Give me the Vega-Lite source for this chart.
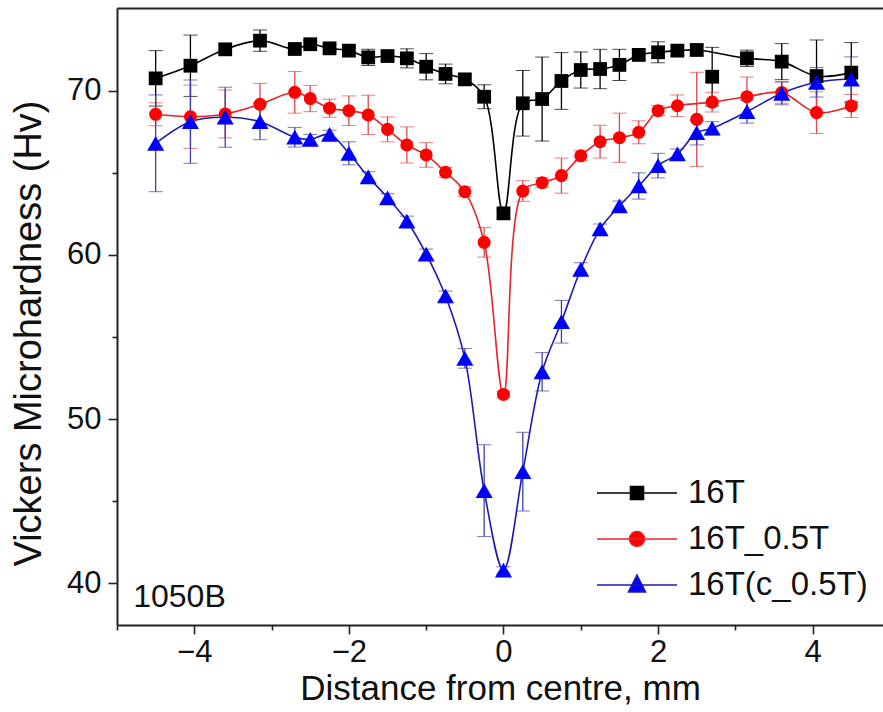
{
  "$schema": "https://vega.github.io/schema/vega-lite/v6.json",
  "width": 766,
  "height": 617,
  "autosize": {"type": "none"},
  "padding": {"left": 117, "top": 8, "right": 0, "bottom": 87},
  "background": "white",
  "config": {
    "view": {"stroke": null},
    "font": "Liberation Sans",
    "axis": {
      "grid": false,
      "domainColor": "#222222",
      "domainWidth": 2,
      "tickColor": "#222222",
      "tickWidth": 1.6,
      "labelColor": "#111111",
      "titleColor": "#111111",
      "labelFont": "Liberation Sans",
      "titleFont": "Liberation Sans",
      "titleFontWeight": "normal",
      "labelFontSize": 31,
      "labelFlush": false,
      "labelOverlap": false
    }
  },
  "data": {
    "values": [
      {"s": "16T", "x": -4.5, "y": 70.77, "e": 1.69},
      {"s": "16T", "x": -4.05, "y": 71.54, "e": 1.87},
      {"s": "16T", "x": -3.6, "y": 72.54, "e": 0.3},
      {"s": "16T", "x": -3.15, "y": 73.07, "e": 0.65},
      {"s": "16T", "x": -2.7, "y": 72.56, "e": 0.25},
      {"s": "16T", "x": -2.5, "y": 72.85, "e": 0.2},
      {"s": "16T", "x": -2.25, "y": 72.6, "e": 0.2},
      {"s": "16T", "x": -2.0, "y": 72.46, "e": 0.2},
      {"s": "16T", "x": -1.75, "y": 72.05, "e": 0.5},
      {"s": "16T", "x": -1.5, "y": 72.13, "e": 0.25},
      {"s": "16T", "x": -1.25, "y": 71.99, "e": 0.58},
      {"s": "16T", "x": -1.0, "y": 71.48, "e": 0.8},
      {"s": "16T", "x": -0.75, "y": 71.04, "e": 0.6},
      {"s": "16T", "x": -0.5, "y": 70.71, "e": 0.3},
      {"s": "16T", "x": -0.25, "y": 69.65, "e": 0.73},
      {"s": "16T", "x": 0.0, "y": 62.54, "e": 0.3},
      {"s": "16T", "x": 0.25, "y": 69.25, "e": 2.0},
      {"s": "16T", "x": 0.5, "y": 69.51, "e": 2.56},
      {"s": "16T", "x": 0.75, "y": 70.61, "e": 1.73},
      {"s": "16T", "x": 1.0, "y": 71.28, "e": 1.1},
      {"s": "16T", "x": 1.25, "y": 71.34, "e": 1.2},
      {"s": "16T", "x": 1.5, "y": 71.59, "e": 0.95},
      {"s": "16T", "x": 1.75, "y": 72.2, "e": 0.3},
      {"s": "16T", "x": 2.0, "y": 72.36, "e": 0.64},
      {"s": "16T", "x": 2.25, "y": 72.46, "e": 0.3},
      {"s": "16T", "x": 2.5, "y": 72.5, "e": 0.3},
      {"s": "16T", "x": 2.7, "y": 70.87, "e": 1.79},
      {"s": "16T", "x": 3.15, "y": 71.99, "e": 0.5},
      {"s": "16T", "x": 3.6, "y": 71.79, "e": 1.1},
      {"s": "16T", "x": 4.05, "y": 70.91, "e": 2.2},
      {"s": "16T", "x": 4.5, "y": 71.12, "e": 1.83},

      {"s": "16T_0.5T", "x": -4.5, "y": 68.58, "e": 0.7},
      {"s": "16T_0.5T", "x": -4.05, "y": 68.43, "e": 1.93},
      {"s": "16T_0.5T", "x": -3.6, "y": 68.6, "e": 1.46},
      {"s": "16T_0.5T", "x": -3.15, "y": 69.19, "e": 1.27},
      {"s": "16T_0.5T", "x": -2.7, "y": 69.92, "e": 1.27},
      {"s": "16T_0.5T", "x": -2.5, "y": 69.54, "e": 0.8},
      {"s": "16T_0.5T", "x": -2.25, "y": 68.95, "e": 0.55},
      {"s": "16T_0.5T", "x": -2.0, "y": 68.8, "e": 0.9},
      {"s": "16T_0.5T", "x": -1.75, "y": 68.54, "e": 1.2},
      {"s": "16T_0.5T", "x": -1.5, "y": 67.66, "e": 0.76},
      {"s": "16T_0.5T", "x": -1.25, "y": 66.71, "e": 1.1},
      {"s": "16T_0.5T", "x": -1.0, "y": 66.1, "e": 0.75},
      {"s": "16T_0.5T", "x": -0.75, "y": 65.04, "e": 0.3},
      {"s": "16T_0.5T", "x": -0.5, "y": 63.86, "e": 0.3},
      {"s": "16T_0.5T", "x": -0.25, "y": 60.77, "e": 0.9},
      {"s": "16T_0.5T", "x": 0.0, "y": 51.5, "e": 0.2},
      {"s": "16T_0.5T", "x": 0.25, "y": 63.9, "e": 0.63},
      {"s": "16T_0.5T", "x": 0.5, "y": 64.41, "e": 0.3},
      {"s": "16T_0.5T", "x": 0.75, "y": 64.84, "e": 1.07},
      {"s": "16T_0.5T", "x": 1.0, "y": 66.05, "e": 0.3},
      {"s": "16T_0.5T", "x": 1.25, "y": 66.91, "e": 1.0},
      {"s": "16T_0.5T", "x": 1.5, "y": 67.15, "e": 1.5},
      {"s": "16T_0.5T", "x": 1.75, "y": 67.48, "e": 0.7},
      {"s": "16T_0.5T", "x": 2.0, "y": 68.8, "e": 0.3},
      {"s": "16T_0.5T", "x": 2.25, "y": 69.1, "e": 0.66},
      {"s": "16T_0.5T", "x": 2.5, "y": 68.27, "e": 2.87},
      {"s": "16T_0.5T", "x": 2.7, "y": 69.32, "e": 0.6},
      {"s": "16T_0.5T", "x": 3.15, "y": 69.65, "e": 1.2},
      {"s": "16T_0.5T", "x": 3.6, "y": 69.9, "e": 0.65},
      {"s": "16T_0.5T", "x": 4.05, "y": 68.68, "e": 1.27},
      {"s": "16T_0.5T", "x": 4.5, "y": 69.09, "e": 0.7},

      {"s": "16T(c_0.5T)", "x": -4.5, "y": 66.81, "e": 2.95},
      {"s": "16T(c_0.5T)", "x": -4.05, "y": 68.13, "e": 2.54},
      {"s": "16T(c_0.5T)", "x": -3.6, "y": 68.4, "e": 1.83},
      {"s": "16T(c_0.5T)", "x": -3.15, "y": 68.13, "e": 1.1},
      {"s": "16T(c_0.5T)", "x": -2.7, "y": 67.18, "e": 0.6},
      {"s": "16T(c_0.5T)", "x": -2.5, "y": 67.05, "e": 0.3},
      {"s": "16T(c_0.5T)", "x": -2.25, "y": 67.36, "e": 0.25},
      {"s": "16T(c_0.5T)", "x": -2.0, "y": 66.2, "e": 0.7},
      {"s": "16T(c_0.5T)", "x": -1.75, "y": 64.77, "e": 0.3},
      {"s": "16T(c_0.5T)", "x": -1.5, "y": 63.49, "e": 0.25},
      {"s": "16T(c_0.5T)", "x": -1.25, "y": 62.07, "e": 0.3},
      {"s": "16T(c_0.5T)", "x": -1.0, "y": 60.06, "e": 0.3},
      {"s": "16T(c_0.5T)", "x": -0.75, "y": 57.5, "e": 0.3},
      {"s": "16T(c_0.5T)", "x": -0.5, "y": 53.7, "e": 0.6},
      {"s": "16T(c_0.5T)", "x": -0.25, "y": 45.63, "e": 2.8},
      {"s": "16T(c_0.5T)", "x": 0.0, "y": 40.79, "e": 0.2},
      {"s": "16T(c_0.5T)", "x": 0.25, "y": 46.79, "e": 2.4},
      {"s": "16T(c_0.5T)", "x": 0.5, "y": 52.88, "e": 1.17},
      {"s": "16T(c_0.5T)", "x": 0.75, "y": 55.93, "e": 1.3},
      {"s": "16T(c_0.5T)", "x": 1.0, "y": 59.13, "e": 0.4},
      {"s": "16T(c_0.5T)", "x": 1.25, "y": 61.59, "e": 0.3},
      {"s": "16T(c_0.5T)", "x": 1.5, "y": 62.99, "e": 0.3},
      {"s": "16T(c_0.5T)", "x": 1.75, "y": 64.21, "e": 0.8},
      {"s": "16T(c_0.5T)", "x": 2.0, "y": 65.45, "e": 0.75},
      {"s": "16T(c_0.5T)", "x": 2.25, "y": 66.16, "e": 0.3},
      {"s": "16T(c_0.5T)", "x": 2.5, "y": 67.46, "e": 0.75},
      {"s": "16T(c_0.5T)", "x": 2.7, "y": 67.73, "e": 0.4},
      {"s": "16T(c_0.5T)", "x": 3.15, "y": 68.74, "e": 0.7},
      {"s": "16T(c_0.5T)", "x": 3.6, "y": 69.86, "e": 0.7},
      {"s": "16T(c_0.5T)", "x": 4.05, "y": 70.53, "e": 0.9},
      {"s": "16T(c_0.5T)", "x": 4.5, "y": 70.73, "e": 1.35}
    ]
  },
  "layer": [
    {
      "mark": {"type": "errorbar", "ticks": {"size": 14, "strokeWidth": 1.3}, "rule": {"strokeWidth": 1.3}},
      "encoding": {
        "x": {"field": "x", "type": "quantitative", "scale": {"domain": [-5, 4.91], "nice": false, "zero": false},
              "axis": {"values": [-5, -3, -1, 1, 3], "tickSize": 5, "labels": false, "domain": false, "title": null, "orient": "bottom"}},
        "y": {"field": "y", "type": "quantitative", "scale": {"domain": [37.44, 75.06], "nice": false, "zero": false},
              "axis": {"values": [45, 55, 65], "tickSize": 5, "labels": false, "domain": false, "title": null, "orient": "left"}},
        "yError": {"field": "e"},
        "color": {"field": "s", "type": "nominal", "legend": null,
                  "scale": {"domain": ["16T", "16T_0.5T", "16T(c_0.5T)"], "range": ["#000000", "#e04848", "#4040a8"]}}
      }
    },
    {
      "transform": [{"filter": "!((datum.s === '16T' && datum.x === 2.7) || (datum.s === '16T_0.5T' && datum.x === 2.5))"}],
      "mark": {"type": "line", "interpolate": "catmull-rom", "strokeWidth": 1.6},
      "encoding": {
        "x": {"field": "x", "type": "quantitative", "scale": {"domain": [-5, 4.91], "nice": false, "zero": false},
              "axis": {"values": [-4, -2, 0, 2, 4], "tickSize": 9, "labelPadding": 3, "title": "Distance from centre, mm", "titleFontSize": 35, "titlePadding": 4, "orient": "bottom"}},
        "y": {"field": "y", "type": "quantitative", "scale": {"domain": [37.44, 75.06], "nice": false, "zero": false},
              "axis": {"values": [40, 50, 60, 70], "tickSize": 9, "labelPadding": 7, "title": "Vickers Microhardness (Hv)", "titleFontSize": 38, "titlePadding": 18, "titleY": 325, "orient": "left"}},
        "color": {"field": "s", "type": "nominal", "legend": null,
                  "scale": {"domain": ["16T", "16T_0.5T", "16T(c_0.5T)"], "range": ["#000000", "#e8232a", "#1a1ab8"]}},
        "detail": {"field": "s"}
      }
    },
    {
      "transform": [{"filter": "datum.s === '16T'"}],
      "mark": {"type": "point", "filled": true, "opacity": 1, "shape": "square", "size": 190, "color": "#000000"},
      "encoding": {
        "x": {"field": "x", "type": "quantitative", "scale": {"domain": [-5, 4.91], "nice": false, "zero": false},
              "axis": {"orient": "top", "ticks": false, "labels": false, "title": null, "domain": true}},
        "y": {"field": "y", "type": "quantitative", "scale": {"domain": [37.44, 75.06], "nice": false, "zero": false}, "axis": null}
      }
    },
    {
      "transform": [{"filter": "datum.s === '16T_0.5T'"}],
      "mark": {"type": "point", "filled": true, "opacity": 1, "shape": "circle", "size": 170, "color": "#ff0000"},
      "encoding": {
        "x": {"field": "x", "type": "quantitative", "scale": {"domain": [-5, 4.91], "nice": false, "zero": false}, "axis": null},
        "y": {"field": "y", "type": "quantitative", "scale": {"domain": [37.44, 75.06], "nice": false, "zero": false}, "axis": null}
      }
    },
    {
      "transform": [{"filter": "datum.s === '16T(c_0.5T)'"}],
      "mark": {"type": "point", "filled": true, "opacity": 1, "shape": "triangle-up", "size": 290, "color": "#0000ff"},
      "encoding": {
        "x": {"field": "x", "type": "quantitative", "scale": {"domain": [-5, 4.91], "nice": false, "zero": false}, "axis": null},
        "y": {"field": "y", "type": "quantitative", "scale": {"domain": [37.44, 75.06], "nice": false, "zero": false}, "axis": null}
      }
    },
    {
      "transform": [{"filter": "false"}],
      "mark": {"type": "point", "filled": true, "opacity": 1, "strokeWidth": 1.6},
      "encoding": {
        "x": {"field": "x", "type": "quantitative", "scale": {"domain": [-5, 4.91], "nice": false, "zero": false}, "axis": null},
        "y": {"field": "y", "type": "quantitative", "scale": {"domain": [37.44, 75.06], "nice": false, "zero": false}, "axis": null},
        "fill": {"field": "s", "type": "nominal",
                 "scale": {"domain": ["16T", "16T_0.5T", "16T(c_0.5T)"], "range": ["#000000", "#ff0000", "#0000ff"]},
                 "legend": {"title": null, "orient": "none", "legendX": 519, "legendY": 464,
                            "labelFontSize": 33, "labelFont": "Liberation Sans", "labelColor": "#111111", "labelOffset": 10,
                            "labelLimit": 500, "rowPadding": 8, "symbolSize": 1600, "symbolStrokeWidth": 1.6, "symbolOpacity": 1}},
        "stroke": {"field": "s", "type": "nominal",
                   "scale": {"domain": ["16T", "16T_0.5T", "16T(c_0.5T)"], "range": ["#000000", "#e8232a", "#1a1ab8"]},
                   "legend": {"title": null, "orient": "none", "legendX": 519, "legendY": 464,
                              "labelFontSize": 33, "labelFont": "Liberation Sans", "labelColor": "#111111", "labelOffset": 10,
                              "labelLimit": 500, "rowPadding": 8, "symbolSize": 1600, "symbolStrokeWidth": 1.6, "symbolOpacity": 1}},
        "shape": {"field": "s", "type": "nominal",
                  "scale": {"domain": ["16T", "16T_0.5T", "16T(c_0.5T)"],
                            "range": ["M-3,0H1M-1.325,-0.325H-0.675V0.325H-1.325Z",
                                      "M-3,0H1M-0.625,0A0.375,0.375,0,1,1,-1.375,0A0.375,0.375,0,1,1,-0.625,0Z",
                                      "M-3,0H1M-1,-0.5L-0.575,0.35H-1.425Z"]},
                  "legend": {"title": null, "orient": "none", "legendX": 519, "legendY": 464,
                             "labelFontSize": 33, "labelFont": "Liberation Sans", "labelColor": "#111111", "labelOffset": 10,
                             "labelLimit": 500, "rowPadding": 8, "symbolSize": 1600, "symbolStrokeWidth": 1.6, "symbolOpacity": 1}}
      }
    },
    {
      "data": {"values": [{}]},
      "mark": {"type": "text", "align": "left", "baseline": "alphabetic", "fontSize": 32, "font": "Liberation Sans", "color": "#111111"},
      "encoding": {
        "x": {"datum": -4.79, "scale": {"domain": [-5, 4.91], "nice": false, "zero": false}, "axis": null},
        "y": {"datum": 38.56, "scale": {"domain": [37.44, 75.06], "nice": false, "zero": false}, "axis": null},
        "text": {"value": "1050B"}
      }
    }
  ],
  "resolve": {"axis": {"x": "independent", "y": "independent"}, "scale": {"color": "independent"}}
}
